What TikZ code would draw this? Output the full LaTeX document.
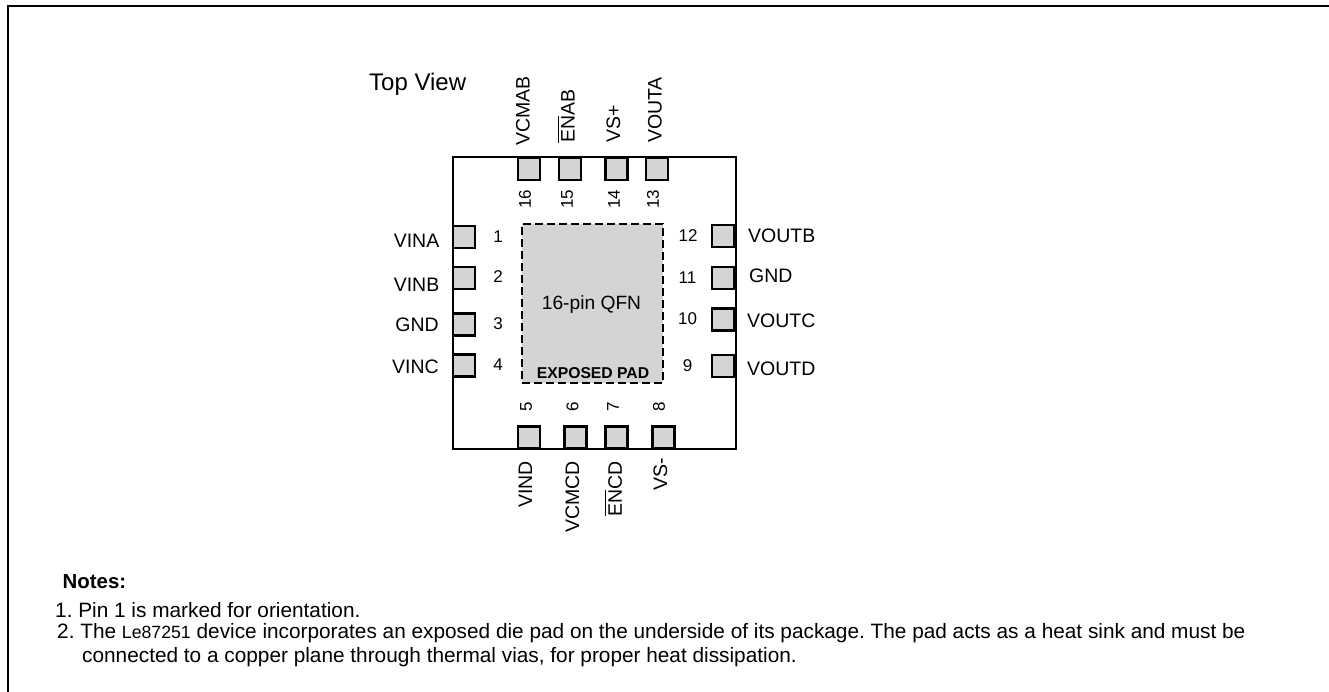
\documentclass[tikz,border=0pt]{standalone}
\usepackage{fontspec}
\setmainfont{Liberation Sans}
\usepackage{tikz}
\frenchspacing
\newcommand{\lblfont}{\fontsize{19.5}{23}\selectfont}
\newcommand{\numfont}{\fontsize{17}{20}\selectfont}
\newcommand{\notefont}{\fontsize{20.8}{24}\selectfont}
\newcommand{\enbar}{\rlap{\rule[16pt]{26.5pt}{1pt}}EN}
\definecolor{padgray}{RGB}{212,212,212}
\tikzset{
    padbox/.style={draw=black, line width=2.6pt, fill=padgray, minimum width=21.7pt, minimum height=21.7pt, inner sep=0pt},
    pinlabel/.style={inner sep=0pt, font=\lblfont},
    pinnum/.style={inner sep=0pt, font=\numfont},
    noteline/.style={inner sep=0pt, anchor=west, font=\notefont}
}
\begin{document}
\begin{tikzpicture}[x=1pt, y=-1pt]
    \useasboundingbox (0,0) rectangle (1329,692);
    % Frame, open at the right and at the bottom
    \coordinate (framebl) at (8,692);
    \coordinate (frametl) at (8,6);
    \coordinate (frametr) at (1329,6);
    \draw[line width=2pt] (framebl) -- (frametl) -- (frametr);

    % Package outline
    \node[draw, line width=2pt, minimum width=283pt, minimum height=292pt, inner sep=0pt] (body) at (594,303) {};

    % Exposed pad
    \node[draw, line width=2.2pt, dash pattern=on 8pt off 4pt, fill=padgray, minimum width=141pt, minimum height=159pt, inner sep=0pt] (epad) at (592.5,303.5) {};
    \node[font=\fontsize{19.2}{23}\selectfont, inner sep=0pt] (qfn) at (591.5,305) {16-pin QFN};
    \node[font=\fontsize{15.7}{19}\selectfont\bfseries, inner sep=0pt] (padtext) at (593,373) {EXPOSED PAD};

    % Left pins
    \node[padbox] (pin1) at (464,237) {};
    \node[padbox] (pin2) at (464,278) {};
    \node[padbox] (pin3) at (464,324.5) {};
    \node[padbox] (pin4) at (464,365.5) {};
    \node[pinnum] (num1) at (498,237) {1};
    \node[pinnum] (num2) at (498,277) {2};
    \node[pinnum] (num3) at (498,323.5) {3};
    \node[pinnum] (num4) at (498,365) {4};
    \node[pinlabel, anchor=east] (lbl1) at (439.5,241) {VINA};
    \node[pinlabel, anchor=east] (lbl2) at (439.5,284.5) {VINB};
    \node[pinlabel, anchor=east] (lbl3) at (439,325) {GND};
    \node[pinlabel, anchor=east] (lbl4) at (439,367) {VINC};

    % Bottom pins
    \node[padbox] (pin5) at (529,437.5) {};
    \node[padbox] (pin6) at (575.5,437.5) {};
    \node[padbox] (pin7) at (616.5,437.5) {};
    \node[padbox] (pin8) at (663.5,437.5) {};
    \node[pinnum, rotate=90] (num5) at (526,407) {5};
    \node[pinnum, rotate=90] (num6) at (572.5,407) {6};
    \node[pinnum, rotate=90] (num7) at (613,407) {7};
    \node[pinnum, rotate=90] (num8) at (659,407) {8};
    \node[pinlabel, rotate=90, anchor=east] (lbl5) at (525.5,461) {VIND};
    \node[pinlabel, rotate=90, anchor=east] (lbl6) at (572.5,461) {VCMCD};
    \node[pinlabel, rotate=90, anchor=east] (lbl7) at (613.5,461) {\enbar CD};
    \node[pinlabel, rotate=90, anchor=east] (lbl8) at (660.5,458) {VS-};

    % Right pins
    \node[padbox] (pin9) at (723,366) {};
    \node[padbox] (pin10) at (723,319.5) {};
    \node[padbox] (pin11) at (723,278) {};
    \node[padbox] (pin12) at (723,236) {};
    \node[pinnum] (num9) at (687.5,366) {9};
    \node[pinnum] (num10) at (687.5,319) {10};
    \node[pinnum] (num11) at (687.5,277.5) {11};
    \node[pinnum] (num12) at (688,235.5) {12};
    \node[pinlabel, anchor=west] (lbl9) at (747,369) {VOUTD};
    \node[pinlabel, anchor=west] (lbl10) at (747,321) {VOUTC};
    \node[pinlabel, anchor=west] (lbl11) at (749,276) {GND};
    \node[pinlabel, anchor=west] (lbl12) at (748,236) {VOUTB};

    % Top pins
    \node[padbox] (pin13) at (657,169) {};
    \node[padbox] (pin14) at (616.5,169) {};
    \node[padbox] (pin15) at (570,169) {};
    \node[padbox] (pin16) at (529,169) {};
    \node[pinnum, rotate=90] (num13) at (653,199) {13};
    \node[pinnum, rotate=90] (num14) at (614,199) {14};
    \node[pinnum, rotate=90] (num15) at (567,199) {15};
    \node[pinnum, rotate=90] (num16) at (525,199) {16};
    \node[pinlabel, rotate=90, anchor=west] (lbl13) at (655,143) {VOUTA};
    \node[pinlabel, rotate=90, anchor=west] (lbl14) at (613.5,143) {VS+};
    \node[pinlabel, rotate=90, anchor=west] (lbl15) at (566,143) {\enbar AB};
    \node[pinlabel, rotate=90, anchor=west] (lbl16) at (523,146) {VCMAB};

    \node[font=\fontsize{24}{28}\selectfont, inner sep=0pt, anchor=west] (topview) at (369,84) {Top View};

    % Notes
    \node[noteline, font=\fontsize{20.4}{24}\selectfont\bfseries] (notes) at (62.5,582) {Notes:};
    \node[noteline] (note1) at (55,610) {1. Pin 1 is marked for orientation.};
    \node[noteline] (note2) at (57,633) {2. The {\fontsize{17.7}{21}\selectfont Le87251} device incorporates an exposed die pad on the underside of its package. The pad acts as a heat sink and must be};
    \node[noteline] (note3) at (82,657) {connected to a copper plane through thermal vias, for proper heat dissipation.};
\end{tikzpicture}
\end{document}
